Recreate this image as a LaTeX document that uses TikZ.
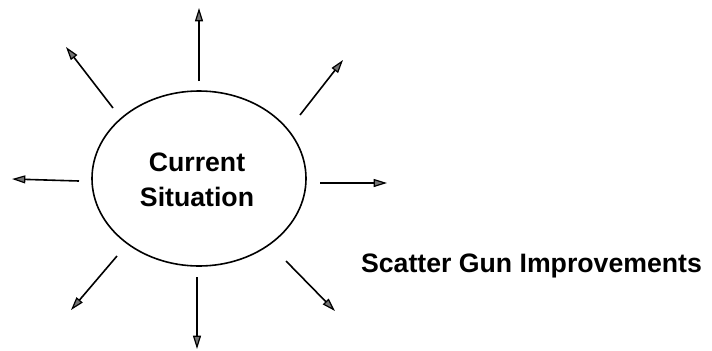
\documentclass[tikz,border=0pt]{standalone}
\usepackage{fontspec}
\setmainfont{Liberation Sans}
\usetikzlibrary{arrows.meta,shapes.geometric}
\begin{document}
\begin{tikzpicture}[x=0.75pt,y=-0.75pt,
  ray/.style={line width=1.2pt,-{Triangle[length=10pt,width=6pt,fill=black!55,line width=0.9pt]}},
  lbl/.style={font=\bfseries\fontsize{20}{26}\selectfont,inner sep=0pt}]
\useasboundingbox (0,0) rectangle (712,350);
\node[draw,line width=1.2pt,ellipse,minimum width=214*0.75pt,minimum height=175*0.75pt,inner sep=0pt] (sit) at (199,178.5) {};
\node[lbl,align=center] (txt) at (197,180) {Current\\Situation};
\node[lbl,anchor=base] (sg) at (531.5,272) {Scatter Gun Improvements};
\coordinate (u0) at (199,81);  \coordinate (u1) at (199,8);
\coordinate (ul0) at (113,108); \coordinate (ul1) at (66,47);
\coordinate (ur0) at (300,115); \coordinate (ur1) at (343,60);
\coordinate (l0) at (79,181);  \coordinate (l1) at (12,179);
\coordinate (r0) at (320,183); \coordinate (r1) at (387,183);
\coordinate (ll0) at (117,256); \coordinate (ll1) at (71,310);
\coordinate (d0) at (197,277); \coordinate (d1) at (197,349);
\coordinate (lr0) at (286,261); \coordinate (lr1) at (335,311);
\draw[ray] (u0) -- (u1);
\draw[ray] (ul0) -- (ul1);
\draw[ray] (ur0) -- (ur1);
\draw[ray] (l0) -- (l1);
\draw[ray] (r0) -- (r1);
\draw[ray] (ll0) -- (ll1);
\draw[ray] (d0) -- (d1);
\draw[ray] (lr0) -- (lr1);
\end{tikzpicture}
\end{document}
